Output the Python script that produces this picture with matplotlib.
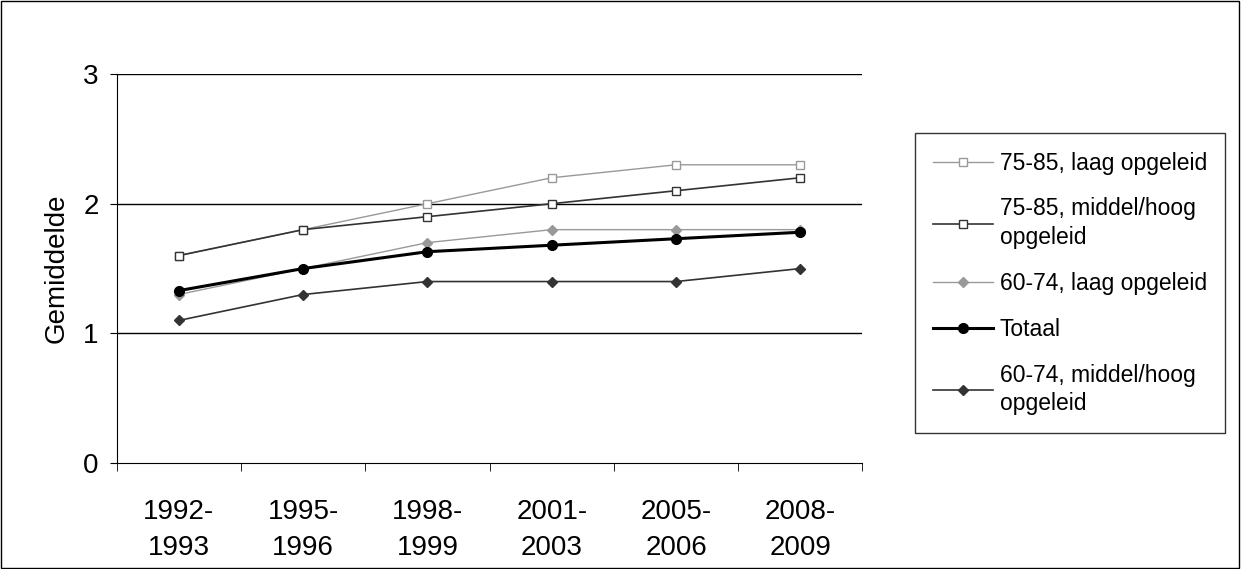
import matplotlib
matplotlib.use("Agg")
import matplotlib.pyplot as plt
import numpy as np

plt.rcParams['font.family'] = ['Liberation Sans', 'DejaVu Sans']

categories = ["1992-\n1993", "1995-\n1996", "1998-\n1999", "2001-\n2003", "2005-\n2006", "2008-\n2009"]
s_7585_laag = [1.6, 1.8, 2.0, 2.2, 2.3, 2.3]
s_7585_mh = [1.6, 1.8, 1.9, 2.0, 2.1, 2.2]
s_6074_laag = [1.3, 1.5, 1.7, 1.8, 1.8, 1.8]
s_totaal = [1.33, 1.5, 1.63, 1.68, 1.73, 1.78]
s_6074_mh = [1.1, 1.3, 1.4, 1.4, 1.4, 1.5]

fig = plt.figure(figsize=(12.41, 5.69), dpi=100)
fig.patches.append(plt.Rectangle((0.001, 0.002), 0.997, 0.996, transform=fig.transFigure,
                                 fill=False, edgecolor='black', lw=1))
ax = fig.add_axes([0.094, 0.186, 0.601, 0.684])
x = np.arange(len(categories))

ax.plot(x, s_7585_laag, color='#999999', lw=1, marker='s', ms=6, mfc='white', mec='#999999', label='75-85, laag opgeleid', zorder=3)
ax.plot(x, s_7585_mh, color='#333333', lw=1.2, marker='s', ms=6, mfc='white', mec='#333333', label='75-85, middel/hoog\nopgeleid', zorder=4)
ax.plot(x, s_6074_laag, color='#999999', lw=1, marker='D', ms=5, mfc='#999999', mec='#999999', label='60-74, laag opgeleid', zorder=3)
ax.plot(x, s_totaal, color='black', lw=2.2, marker='o', ms=7, label='Totaal', zorder=5)
ax.plot(x, s_6074_mh, color='#333333', lw=1.2, marker='D', ms=5, mfc='#333333', mec='#333333', label='60-74, middel/hoog\nopgeleid', zorder=4)

ax.set_xlim(-0.5, 5.5)
ax.set_ylim(0, 3)
ax.set_yticks([0, 1, 2, 3])
ax.tick_params(axis='y', labelsize=20, length=5, direction='out', pad=8)
for yv in [1, 2, 3]:
    ax.axhline(yv, color='black', lw=1, zorder=1)
ax.set_xticks(x)
ax.set_xticklabels(categories, fontsize=20, linespacing=1.5)
ax.tick_params(axis='x', length=0, pad=26)
ax.set_xticks(np.arange(-0.5, 6, 1), minor=True)
ax.tick_params(axis='x', which='minor', length=6)
for s in ['top', 'right']:
    ax.spines[s].set_visible(False)
ax.set_ylabel('Gemiddelde', fontsize=20, labelpad=10)

leg = fig.legend(loc='upper left', bbox_to_anchor=(0.728, 0.786), fontsize=16.5,
                 frameon=True, fancybox=False, edgecolor='black', labelspacing=1.0,
                 handlelength=2.6, handletextpad=0.3, borderpad=0.8)
for t in leg.get_texts():
    t.set_linespacing(1.3)
leg.get_frame().set_linewidth(1)

fig.savefig('out.png', dpi=100)
